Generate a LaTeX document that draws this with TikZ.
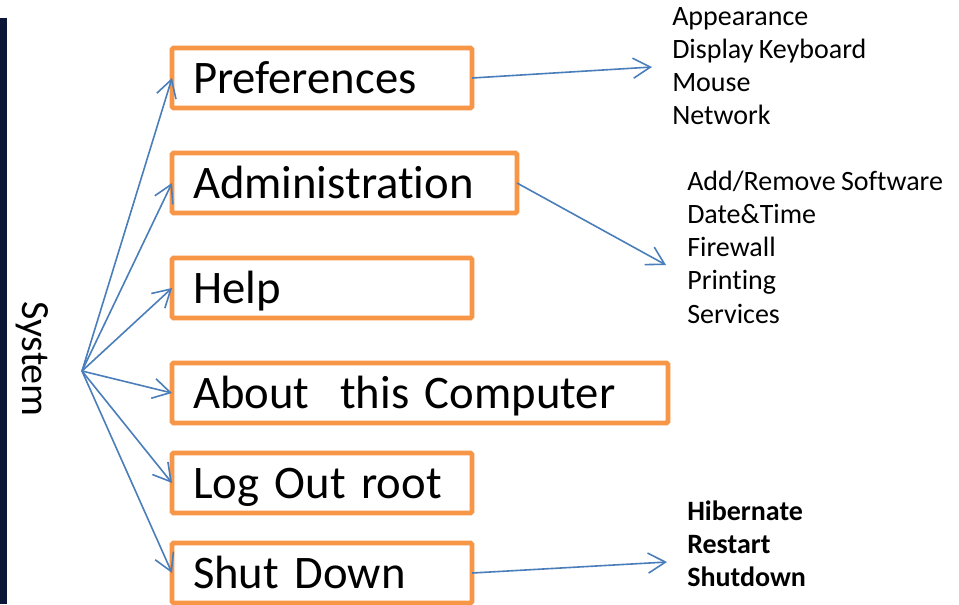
\documentclass[tikz,border=0pt]{standalone}
\usepackage{fontspec}
\setmainfont{Carlito}[Ligatures=NoCommon, WordSpace=0.85]
\usetikzlibrary{arrows.meta, positioning}
\definecolor{boxorange}{HTML}{F79646}
\definecolor{linkblue}{HTML}{4A7EBB}
\definecolor{edgenavy}{HTML}{0C1636}
\tikzset{
  menubox/.style={draw=boxorange, line width=3.4pt, rounded corners=1pt,
    minimum height=45pt, inner xsep=15.75pt, inner ysep=2pt, outer sep=0pt,
    text width=#1, align=left, anchor=west,
    text height=30pt, text depth=7pt, font=\fontsize{35}{42}\selectfont},
  link/.style={->, draw=linkblue, line width=1.2pt},
  item/.style={anchor=base west, inner sep=0pt, font=\fontsize{21}{25}\selectfont},
  >={Straight Barb[length=13pt, width=15pt]}
}

\begin{document}
\begin{tikzpicture}[x=0.75pt, y=-0.75pt]
    \fill[white] (0,0) rectangle (959,604);
    \useasboundingbox (0,0) rectangle (959,604);
    \fill[edgenavy] (0,18) rectangle (7,604);

    % the menu
    \node[rotate=-90, anchor=base, font=\fontsize{30}{36}\selectfont] (sys) at (22,359) {System};
    \coordinate (hub) at (82,371);

    \node[menubox=193.5pt] (pref) at (172,78) {Preferences};
    \node[menubox=227.25pt, below=33.75pt of pref.south west, anchor=north west] (admin) {Administration};
    \node[menubox=193.5pt, below=33.75pt of admin.south west, anchor=north west] (help) {Help};
    \node[menubox=340.5pt, below=33.75pt of help.south west, anchor=north west] (about) {About~ this Computer};
    \node[menubox=193.5pt, below=22.5pt of about.south west, anchor=north west] (logout) {Log Out root};
    \node[menubox=193.5pt, below=22.5pt of logout.south west, anchor=north west] (shut) {Shut Down};

    \foreach \b in {pref, admin, help, about, logout, shut}
      \draw[link] (hub) -- (\b.west);

    % sub menus
    \foreach \t [count=\i from 0] in {Appearance, Display Keyboard, Mouse, Network}
      \node[item] (pref-\i) at (672, {25+33.3*\i}) {\t};
    \foreach \t [count=\i from 0] in {Add/Remove Software, Date\&Time, Firewall, Printing, Services}
      \node[item] (admin-\i) at (687, {190+33.3*\i}) {\t};
    \foreach \t [count=\i from 0] in {Hibernate, Restart, Shutdown}
      \node[item, font=\fontsize{21}{25}\selectfont\bfseries] (shut-\i) at (687, {520+33.3*\i}) {\t};

    \coordinate (pref-end) at (652,67);
    \coordinate (admin-end) at (666,265);
    \coordinate (shut-end) at (667,562);
    \draw[link] (pref.east) -- (pref-end);
    \draw[link] (admin.east) -- (admin-end);
    \draw[link] (shut.east) -- (shut-end);
\end{tikzpicture}
\end{document}
